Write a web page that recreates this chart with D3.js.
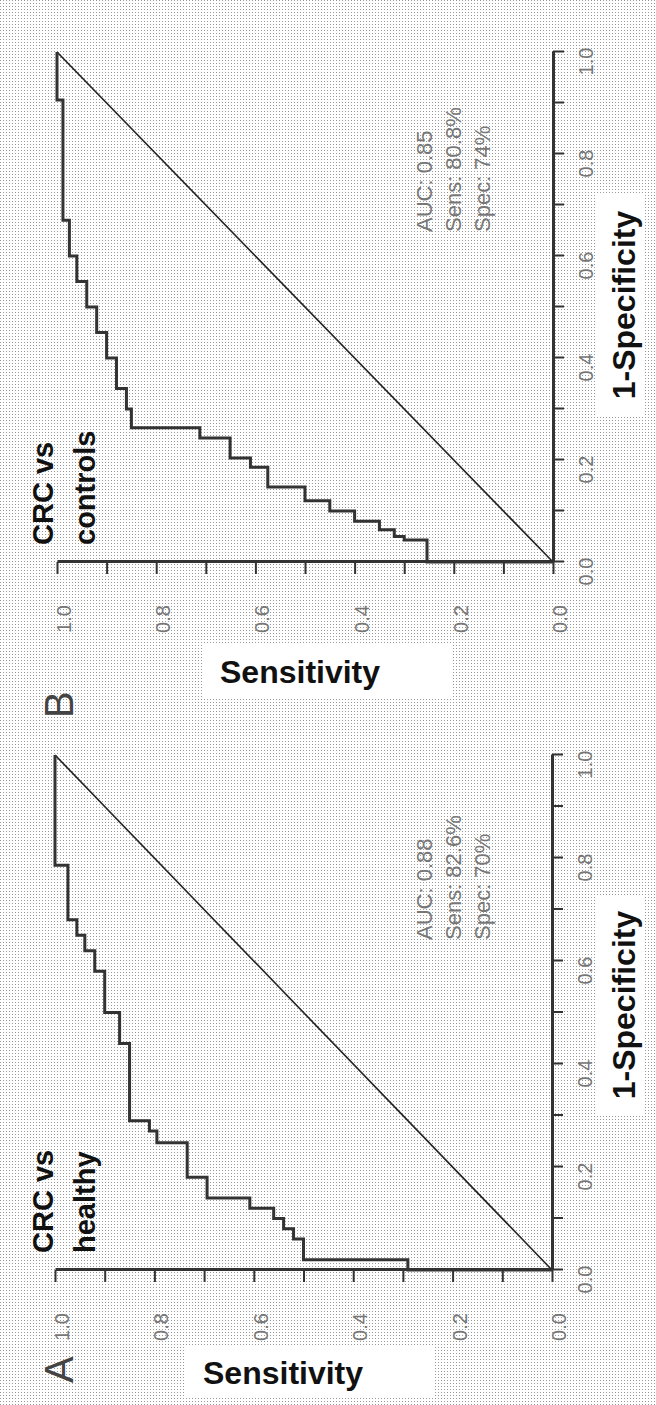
<!DOCTYPE html>
<html>
<head>
<meta charset="utf-8">
<script src="https://cdn.jsdelivr.net/npm/d3@7"></script>
<style>
  body { margin: 0; background: #fff; }
  svg { display: block; font-family: "Liberation Sans", Arial, sans-serif; }
</style>
</head>
<body>
<svg id="chart" width="656" height="1405"></svg>
<script>
// ROC operating points (1-specificity, sensitivity)
var fprA = [0, 0, 0.02, 0.06, 0.08, 0.10, 0.12, 0.14, 0.18, 0.247, 0.27, 0.29, 0.44, 0.50, 0.58, 0.62, 0.65, 0.68, 0.786, 1];
var tprA = [0, 0.29, 0.50, 0.52, 0.54, 0.56, 0.608, 0.694, 0.734, 0.795, 0.81, 0.85, 0.87, 0.90, 0.92, 0.94, 0.956, 0.974, 1, 1];

var fprB = [0, 0, 0.043, 0.05, 0.063, 0.08, 0.10, 0.12, 0.147, 0.186, 0.204, 0.243, 0.263, 0.30, 0.34, 0.40, 0.45, 0.50, 0.55, 0.60, 0.67, 0.906, 1];
var tprB = [0, 0.254, 0.30, 0.32, 0.35, 0.40, 0.45, 0.50, 0.575, 0.61, 0.651, 0.712, 0.85, 0.86, 0.88, 0.90, 0.92, 0.94, 0.96, 0.975, 0.988, 1, 1];

var tickValues = [0, 0.1, 0.2, 0.3, 0.4, 0.5, 0.6, 0.7, 0.8, 0.9, 1.0];
var titleA = ['CRC vs', 'healthy'];
var titleB = ['CRC vs', 'controls'];
var statsA = ['AUC: 0.88', 'Sens: 82.6%', 'Spec: 70%'];
var statsB = ['AUC: 0.85', 'Sens: 80.8%', 'Spec: 74%'];

var svg = d3.select('#chart');

// halftone background
var pat = svg.append('defs').append('pattern')
  .attr('id', 'dots').attr('width', 3).attr('height', 3)
  .attr('patternUnits', 'userSpaceOnUse');
pat.append('rect').attr('width', 3).attr('height', 3).attr('fill', '#fff');
pat.append('rect').attr('width', 1).attr('height', 1).attr('fill', '#999');
svg.append('rect').attr('width', 656).attr('height', 1405).attr('fill', 'url(#dots)');

// the figure is drawn landscape and turned a quarter turn
var fig = svg.append('g').attr('transform', 'translate(0,1405) rotate(-90)');

function drawPanel(p){
  var g = fig.append('g');
  var x = d3.scaleLinear().domain([0, 1]).range([p.x0, p.x1]);
  var y = d3.scaleLinear().domain([0, 1]).range([p.y0, p.y1]);

  // white boxes behind axis titles
  g.append('rect').attr('x', p.sensX - 14).attr('y', p.sensY - 18)
    .attr('width', 53).attr('height', 250).attr('fill', '#fff');
  g.append('rect').attr('x', p.specX - 110).attr('y', 597)
    .attr('width', 220).attr('height', 48).attr('fill', '#fff');

  var fmt = function(d){ return Math.round(d * 10) % 2 === 0 ? d3.format('.1f')(d) : ''; };
  var xAxis = d3.axisBottom(x).tickValues(tickValues).tickSize(11).tickSizeOuter(0).tickFormat(fmt);
  var yAxis = d3.axisLeft(y).tickValues(tickValues).tickSize(12).tickSizeOuter(0).tickFormat(fmt);

  var gx = g.append('g').attr('transform', 'translate(0,' + p.y0 + ')').call(xAxis);
  var gy = g.append('g').attr('transform', 'translate(' + p.x0 + ',0)').call(yAxis);
  [gx, gy].forEach(function(a){
    a.select('.domain').attr('stroke', '#333').attr('stroke-width', 3);
    a.selectAll('.tick line').attr('stroke', '#333').attr('stroke-width', 2);
    a.selectAll('.tick text').attr('font-size', 20).attr('fill', '#777')
      .attr('font-family', '"Liberation Sans", Arial, sans-serif');
  });
  gx.selectAll('.tick text').attr('y', 26).attr('dx', -10);
  gy.selectAll('.tick text').attr('text-anchor', 'middle').attr('x', -57).attr('y', 7);

  // chance diagonal
  g.append('line')
    .attr('x1', x(0)).attr('y1', y(0)).attr('x2', x(1)).attr('y2', y(1))
    .attr('stroke', '#222').attr('stroke-width', 1.6);

  // ROC step curve
  var pts = p.fpr.map(function(f, i){ return [f, p.tpr[i]]; });
  g.append('path').datum(pts)
    .attr('d', d3.line().x(function(d){ return x(d[0]); }).y(function(d){ return y(d[1]); })
      .curve(d3.curveStepAfter))
    .attr('fill', 'none').attr('stroke', '#333').attr('stroke-width', 3);

  // panel letter
  g.append('text').attr('x', p.letterX).attr('y', 73)
    .attr('font-size', 40).attr('fill', '#444').text(p.letter);

  // group title
  g.append('text').attr('font-size', 29).attr('font-weight', 'bold').attr('fill', '#111')
    .selectAll('tspan').data(p.title).enter().append('tspan')
    .attr('x', p.x0 + 17).attr('y', function(d, i){ return 53 + i * 42; })
    .text(function(d){ return d; });

  // stats
  g.append('g').selectAll('text').data(p.stats).enter().append('text')
    .attr('x', p.x0 + 330).attr('y', function(d, i){ return 432 + i * 29; })
    .attr('font-size', 22).attr('fill', '#777').text(function(d){ return d; });

  // axis titles
  g.append('text').attr('transform', 'translate(' + p.sensX + ',' + p.sensY + ') rotate(90)')
    .attr('font-size', 32).attr('font-weight', 'bold').attr('fill', '#111').text('Sensitivity');
  g.append('text').attr('x', p.specX).attr('y', 635).attr('text-anchor', 'middle')
    .attr('font-size', 32).attr('font-weight', 'bold').attr('fill', '#111').text('1-Specificity');
}

drawPanel({ letter: 'A', letterX: 22, x0: 135, x1: 650, y0: 552, y1: 55, fpr: fprA, tpr: tprA,
  title: titleA, stats: statsA, sensX: 21, sensY: 203, specX: 400 });
drawPanel({ letter: 'B', letterX: 687, x0: 843, x1: 1353, y0: 553, y1: 57, fpr: fprB, tpr: tprB,
  title: titleB, stats: statsB, sensX: 722, sensY: 220, specX: 1100 });
</script>
</body>
</html>
